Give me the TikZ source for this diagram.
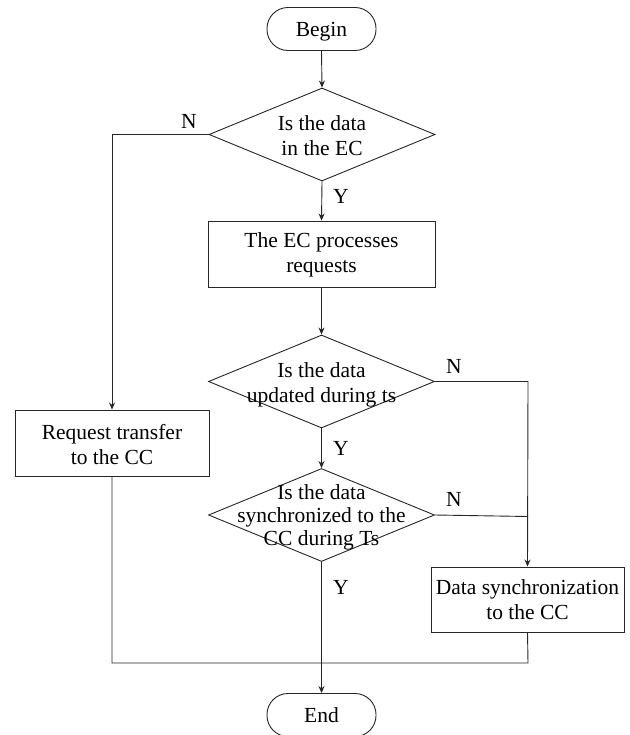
\documentclass[tikz,border=0pt]{standalone}
\usepackage{fontspec}
\setmainfont{Liberation Serif}
\usetikzlibrary{shapes.geometric,arrows.meta}
\begin{document}
\begin{tikzpicture}[x=1pt,y=-1pt,
  every node/.style={font=\fontsize{21.5}{25}\selectfont},
  line/.style={draw=black!85, line width=0.9pt},
  arr/.style={line, -{Stealth[length=7pt,width=6pt]}},
  term/.style={line, rectangle, rounded corners=21pt, minimum width=109pt, minimum height=43pt, inner sep=0pt, text depth=0pt},
  proc/.style={line, rectangle, inner sep=0pt},
  decide/.style={line, diamond, minimum width=226pt, minimum height=93pt, inner sep=0pt},
  txt/.style={align=center, inner sep=0pt},
  lab/.style={inner sep=0pt}]
\useasboundingbox (0,0) rectangle (629,735);

% terminals
\node[term] (begin) at (321.5,29) {Begin};
\node[term] (end) at (321.5,715) {End};

% decisions
\node[decide] (d1) at (322,134.5) {};
\node[txt] at (322,136) {Is the data\\in the EC};
\node[decide] (d2) at (321.5,381.5) {};
\node[txt] at (321.5,384.5) {Is the data\\updated during ts};
\node[decide] (d3) at (321.5,515) {};
\node[txt, font=\fontsize{21.5}{23}\selectfont] at (321.5,517) {Is the data\\synchronized to the\\CC during Ts};

% processes
\node[proc, minimum width=227pt, minimum height=66pt] (ec) at (321.5,254) {};
\node[txt] at (321.5,254.5) {The EC processes\\requests};
\node[proc, minimum width=194pt, minimum height=66pt] (req) at (112,443) {};
\node[txt] at (112,445) {Request transfer\\to the CC};
\node[proc, minimum width=193pt, minimum height=65pt] (sync) at (527.5,599.5) {};
\node[txt] at (527.5,600) {Data synchronization\\to the CC};

% junction points
\coordinate (jl) at (112,134.5);
\coordinate (jr) at (528,381.5);
\coordinate (jm) at (528,516.5);
\coordinate (bl) at (112,663);
\coordinate (br) at (528,663);

% main flow
\draw[arr] (begin.south) -- (d1.north);
\draw[arr] (d1.south) -- (ec.north);
\draw[arr] (ec.south) -- (d2.north);
\draw[arr] (d2.south) -- (d3.north);
\draw[arr] (d3.south) -- (end.north);

% branches
\draw[arr] (d1.west) -- (jl) -- (req.north);
\draw[arr] (d2.east) -- (jr) -- (sync.north);
\draw[line] (d3.east) -- (jm);
\draw[line] (req.south) -- (bl) -- (br) -- (sync.south);

% branch labels
\node[lab] at (189,121) {N};
\node[lab] at (341,196) {Y};
\node[lab] at (454,366) {N};
\node[lab] at (341,448) {Y};
\node[lab] at (454,499) {N};
\node[lab] at (341,587) {Y};
\end{tikzpicture}
\end{document}
